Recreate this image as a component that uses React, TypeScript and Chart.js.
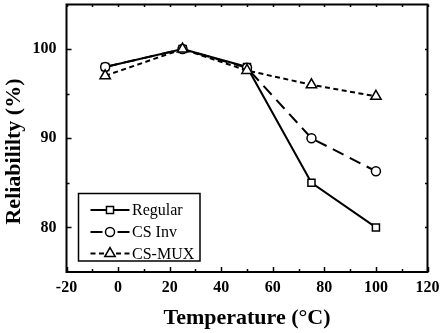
import React, { useEffect, useRef } from "react";
import { Chart, registerables } from "chart.js";
Chart.register(...registerables);

const temperatures = [-5, 25, 50, 75, 100];
const regular = [98, 100, 98, 85, 80];
const csInv = [98, 100, 97.9, 90, 86.3];
const csMux = [97, 100, 97.6, 96, 94.7];
const seriesNames = ["Regular", "CS Inv", "CS-MUX"];
const xTicks = [-20, 0, 20, 40, 60, 80, 100, 120];
const yTicks = [80, 90, 100];
const xMinorTicks = [-10, 10, 30, 50, 70, 90, 110];
const yMinorTicks = [85, 95];
const xTitle = "Temperature (°C)";
const yTitle = "Reliabililty (%)";

const SERIF = "'Liberation Serif', 'Times New Roman', serif";

function markerPath(ctx: CanvasRenderingContext2D, style: string, x: number, y: number, r: number) {
  ctx.beginPath();
  if (style === "circle") {
    ctx.arc(x, y, r, 0, Math.PI * 2);
  } else if (style === "rect") {
    const s = Math.SQRT1_2 * r;
    ctx.rect(x - s, y - s, 2 * s, 2 * s);
  } else if (style === "triangle") {
    let rad = 0;
    ctx.moveTo(x + Math.sin(rad) * r, y - Math.cos(rad) * r);
    rad += (2 * Math.PI) / 3;
    ctx.lineTo(x + Math.sin(rad) * r, y - Math.cos(rad) * r);
    rad += (2 * Math.PI) / 3;
    ctx.lineTo(x + Math.sin(rad) * r, y - Math.cos(rad) * r);
    ctx.closePath();
  }
}

function zeroPadding(s: any) {
  s.paddingTop = 0;
  s.paddingBottom = 0;
  s.paddingLeft = 0;
  s.paddingRight = 0;
}

export default function App() {
  const ref = useRef<HTMLCanvasElement>(null);
  useEffect(() => {
    document.body.style.margin = "0";
    const canvas = ref.current!;
    const pts = (ys: number[]) => temperatures.map((x, i) => ({ x, y: ys[i] }));

    const framePlugin = {
      id: "frame",
      afterDraw(chart: any) {
        const { ctx, chartArea: a, scales } = chart;
        const xs = scales.x, ys = scales.y;
        ctx.save();
        ctx.strokeStyle = "#000";
        ctx.lineWidth = 2;
        ctx.strokeRect(a.left, a.top, a.right - a.left, a.bottom - a.top);
        ctx.lineWidth = 1.5;
        const tickX = (v: number, len: number, lenTop: number) => {
          const p = Math.round(xs.getPixelForValue(v)) + 0.5;
          ctx.beginPath();
          ctx.moveTo(p, a.bottom); ctx.lineTo(p, a.bottom - len);
          ctx.moveTo(p, a.top); ctx.lineTo(p, a.top + lenTop);
          ctx.stroke();
        };
        const tickY = (v: number, len: number, lenRight: number) => {
          const p = Math.round(ys.getPixelForValue(v)) + 0.5;
          ctx.beginPath();
          ctx.moveTo(a.left, p); ctx.lineTo(a.left + len, p);
          ctx.moveTo(a.right, p); ctx.lineTo(a.right - lenRight, p);
          ctx.stroke();
        };
        xTicks.forEach((v) => tickX(v, 5, 2.5));
        xMinorTicks.forEach((v) => tickX(v, 3, 2.5));
        yTicks.forEach((v) => tickY(v, 5, 2.5));
        yMinorTicks.forEach((v) => tickY(v, 3, 2.5));

        // y title
        ctx.fillStyle = "#000";
        ctx.font = `bold 22px ${SERIF}`;
        ctx.textAlign = "center";
        ctx.textBaseline = "middle";
        ctx.translate(14.5, 151.5);
        ctx.rotate(-Math.PI / 2);
        ctx.fillText(yTitle, 0, 0);
        ctx.restore();

        // legend
        ctx.save();
        ctx.strokeStyle = "#000";
        ctx.lineWidth = 1.5;
        ctx.strokeRect(78.5, 193.5, 121.5, 67.5);
        const rows = [210, 232, 253.5];
        const x0 = 90.5, x1 = 129.5, xm = 110;
        chart.data.datasets.forEach((ds: any, i: number) => {
          const y = rows[i];
          ctx.lineWidth = ds.borderWidth;
          ctx.setLineDash(ds.borderDash || []);
          ctx.beginPath();
          ctx.moveTo(x0, y); ctx.lineTo(xm, y);
          ctx.stroke();
          ctx.beginPath();
          ctx.moveTo(x1, y); ctx.lineTo(xm, y);
          ctx.stroke();
          ctx.setLineDash([]);
          markerPath(ctx, ds.pointStyle, xm, y, ds.pointRadius);
          ctx.fillStyle = "#fff";
          ctx.fill();
          ctx.lineWidth = ds.pointBorderWidth;
          ctx.stroke();
          ctx.fillStyle = "#000";
          ctx.font = `16px ${SERIF}`;
          ctx.textAlign = "left";
          ctx.textBaseline = "middle";
          ctx.fillText(ds.label, 132, y + 1);
        });
        ctx.restore();
      },
    };

    const common = {
      borderColor: "#000",
      borderWidth: 2,
      pointBackgroundColor: "#fff",
      pointBorderColor: "#000",
      pointBorderWidth: 1.5,
      showLine: true,
      fill: false,
      tension: 0,
    };

    const chart = new Chart(canvas, {
      type: "line",
      data: {
        datasets: [
          { ...common, label: seriesNames[0], data: pts(regular), borderDash: [], pointStyle: "rect", pointRadius: 5, order: 3 },
          { ...common, label: seriesNames[1], data: pts(csInv), borderDash: [12, 7], pointStyle: "circle", pointRadius: 4.5, order: 2 },
          { ...common, label: seriesNames[2], data: pts(csMux), borderDash: [5, 3.5], pointStyle: "triangle", pointRadius: 6, order: 1 },
        ] as any,
      },
      options: {
        responsive: false,
        maintainAspectRatio: false,
        animation: false,
        devicePixelRatio: 1,
        layout: { autoPadding: false, padding: { top: 4.5, right: 12.5, left: 0, bottom: 0 } },
        plugins: { legend: { display: false }, tooltip: { enabled: false } },
        scales: {
          x: {
            type: "linear",
            min: -20,
            max: 120,
            afterBuildTicks: (s: any) => { s.ticks = xTicks.map((v) => ({ value: v })); },
            afterFit: (s: any) => { s.height = 61; zeroPadding(s); },
            grid: { display: false, drawTicks: false },
            border: { display: false },
            ticks: { color: "#000", font: { family: SERIF, size: 16, weight: "bold" }, padding: 6, maxRotation: 0, autoSkip: false },
            title: { display: true, text: xTitle, color: "#000", font: { family: SERIF, size: 22, weight: "bold" }, padding: { top: 0, bottom: 1 } },
          },
          y: {
            type: "linear",
            min: 75,
            max: 105,
            afterBuildTicks: (s: any) => { s.ticks = yTicks.map((v) => ({ value: v })); },
            afterFit: (s: any) => { s.width = 66.5; zeroPadding(s); },
            grid: { display: false, drawTicks: false },
            border: { display: false },
            ticks: { color: "#000", font: { family: SERIF, size: 16, weight: "bold" }, padding: 10 },
          },
        },
      } as any,
      plugins: [framePlugin],
    });
    return () => chart.destroy();
  }, []);

  return (
    <div style={{ width: 440, height: 333 }}>
      <canvas ref={ref} width={440} height={333} />
    </div>
  );
}
